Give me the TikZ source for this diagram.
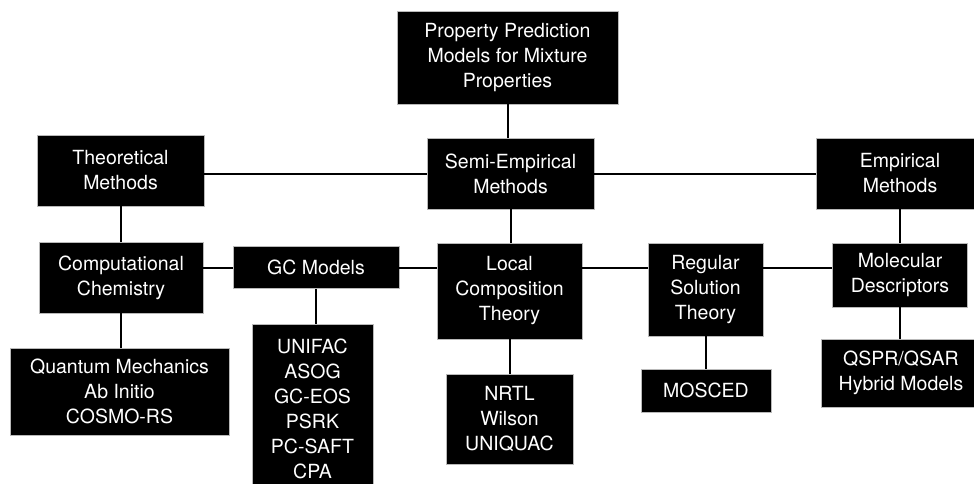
\documentclass[tikz,border=0pt]{standalone}
\usepackage{fontspec}
\setmainfont{TeX Gyre Heros}
\begin{document}
\begin{tikzpicture}[x=1pt,y=-1pt,
  box/.style={draw=gray!55, line width=0.8pt, fill=black, text=white,
    align=center, inner sep=0pt,
    font=\fontsize{19.5}{25}\selectfont},
  link/.style={line width=2pt, black}]
\useasboundingbox (0,0) rectangle (974,483);

% top level
\node[box, minimum width=221, minimum height=93] (top) at (507.5,57.5)
  {Property Prediction\\Models for Mixture\\Properties};

% method families
\node[box, minimum width=167, minimum height=71] (semi) at (510.5,173.5) {Semi-Empirical\\Methods};
\node[box, minimum width=167, minimum height=71] (theo) at (120.5,170.5) {Theoretical\\Methods};
\node[box, minimum width=168, minimum height=71] (emp)  at (900,173.5)   {Empirical\\Methods};

% approaches
\node[box, minimum width=164, minimum height=71] (comp)  at (121,277.5)   {Computational\\Chemistry};
\node[box, minimum width=166, minimum height=42] (gc)    at (316,267.5)   {GC Models};
\node[box, minimum width=145, minimum height=96] (local) at (509.5,291)   {Local\\Composition\\Theory};
\node[box, minimum width=115, minimum height=93] (reg)   at (705.5,289.5) {Regular\\Solution\\Theory};
\node[box, minimum width=135, minimum height=64] (mol)   at (900,275)     {Molecular\\Descriptors};

% model lists
\node[box, minimum width=219, minimum height=87]  (quant)  at (119.5,391.5) {Quantum Mechanics\\Ab Initio\\COSMO-RS};
\node[box, minimum width=121, minimum height=170] (gclist) at (312.5,409)   {UNIFAC\\ASOG\\GC-EOS\\PSRK\\PC-SAFT\\CPA};
\node[box, minimum width=127, minimum height=90]  (nrtl)   at (509.5,419)   {NRTL\\Wilson\\UNIQUAC};
\node[box, minimum width=130, minimum height=43]  (mosced) at (706,390.5)   {MOSCED};
\node[box, minimum width=160, minimum height=68]  (qspr)   at (901,373)     {QSPR/QSAR\\Hybrid Models};

% connectors
\draw[link] (top.south) -- (top.south |- semi.north);
\draw[link] (semi.west) -- (theo.east |- semi.west);
\draw[link] (semi.east) -- (emp.west |- semi.east);
\draw[link] (theo.south) -- (theo.south |- comp.north);
\draw[link] (semi.south) -- (semi.south |- local.north);
\draw[link] (mol.north) -- (mol.north |- emp.south);
\draw[link] (gc.west) -- (comp.east |- gc.west);
\draw[link] (gc.east) -- (local.west |- gc.east);
\draw[link] (local.east |- gc.east) -- (reg.west |- gc.east);
\draw[link] (reg.east |- gc.east) -- (mol.west |- gc.east);
\draw[link] (comp.south) -- (comp.south |- quant.north);
\draw[link] (gc.south) -- (gc.south |- gclist.north);
\draw[link] (local.south) -- (local.south |- nrtl.north);
\draw[link] (reg.south) -- (reg.south |- mosced.north);
\draw[link] (mol.south) -- (mol.south |- qspr.north);
\end{tikzpicture}
\end{document}
